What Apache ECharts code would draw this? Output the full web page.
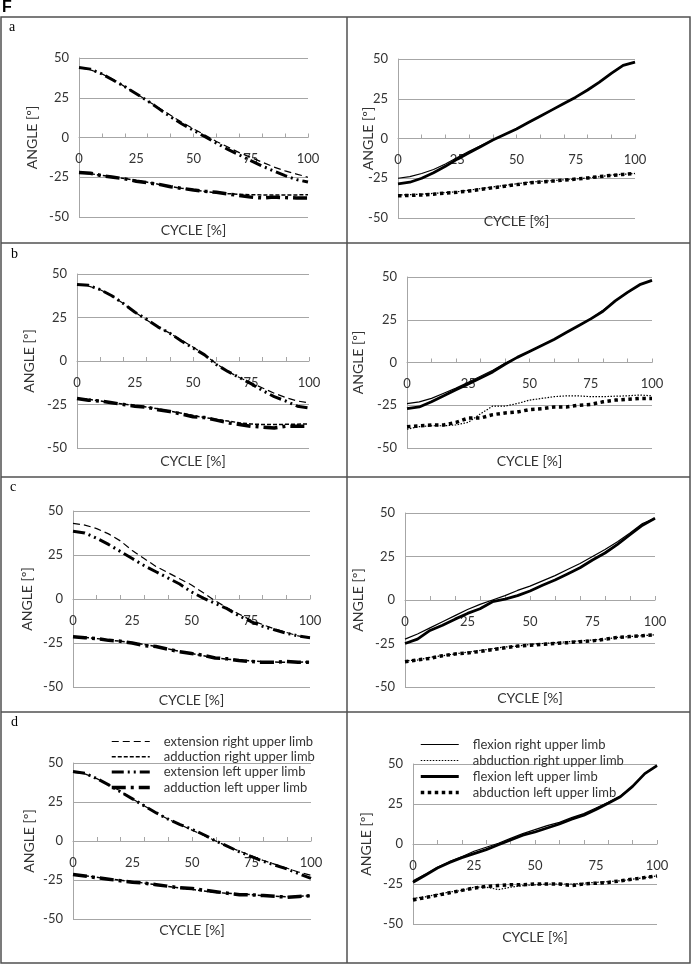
<!DOCTYPE html>
<html>
<head>
<meta charset="utf-8">
<title>Angle over cycle</title>
<script src="https://cdn.jsdelivr.net/npm/echarts@6/dist/echarts.min.js"></script>
<style>
  html, body { margin: 0; padding: 0; background: #fff; }
  #chart { width: 692px; height: 965px; }
</style>
</head>
<body>
<div id="chart"></div>
<script>
// x values (cycle %) shared by every curve
var cycle = [0, 5, 10, 15, 20, 25, 30, 35, 40, 45, 50, 55, 60, 65, 70, 75, 80, 85, 90, 95, 100];
var cycleTicks = [0, 25, 50, 75, 100];
var angleTicks = [-50, -25, 0, 25, 50];

var leftNames = ['extension right upper limb', 'adduction right upper limb', 'extension left upper limb', 'adduction left upper limb'];
var rightNames = ['flexion right upper limb', 'abduction right upper limb', 'flexion left upper limb', 'abduction left upper limb'];

// a
var aExtR = [44, 42.5, 40, 36.5, 32, 27.5, 23, 18.5, 14, 9.5, 5.5, 1.5, -2.5, -6, -9.5, -12.5, -15.5, -18.5, -21, -23, -25];
var aAddR = [-22, -22.8, -23.8, -24.8, -25.8, -27, -28.2, -29.5, -30.8, -32, -33, -34, -34.8, -35.3, -35.7, -36, -36.1, -36.2, -36.2, -36.1, -36];
var aExtL = [44, 43, 40, 36, 32, 27.5, 23, 18, 13, 8.5, 4.5, 0.5, -3.5, -7.5, -11, -14.5, -18, -21, -24, -26.5, -28];
var aAddL = [-22, -22.5, -24, -25, -26, -27.5, -28.5, -29.5, -31, -32, -33, -33.8, -34.5, -35.5, -36.5, -37.5, -38, -37.5, -37.8, -38, -38];
var aFlexR = [-25, -24, -22, -19.5, -16, -12, -8, -4.5, -1, 2.5, 6, 10, 14, 18, 22, 26, 30.5, 35.5, 41, 46, 48];
var aAbdR = [-35.5, -35.3, -35, -34.5, -34, -33.5, -32.5, -31.5, -30.5, -29.5, -28.5, -27.5, -27, -26.5, -26, -25.5, -24.8, -24, -23, -22.5, -22];
var aFlexL = [-28.5, -27.5, -25, -21.5, -17.5, -13, -9, -5, -1, 2.5, 6, 10, 14, 18, 22, 26, 30.5, 35.5, 41, 46, 48];
var aAbdL = [-36, -35.8, -35.5, -35, -34.3, -33.8, -33, -32, -31, -30, -29, -28, -27.3, -26.8, -26.2, -25.5, -24.8, -24, -23.2, -22.6, -22];

// b
var bExtR = [44, 43, 41, 37.5, 33, 28, 23.5, 19.5, 16, 12, 8, 3.5, -1.5, -6, -9.5, -12.5, -15.5, -18.5, -21, -23, -24];
var bAddR = [-21.5, -22, -23, -24, -24.8, -25.5, -26.5, -27.5, -28.8, -30, -31.3, -32.5, -33.5, -34.5, -35.5, -36.2, -36.5, -36.5, -36.4, -36.3, -36.2];
var bExtL = [44, 43.5, 41, 37.5, 33, 28, 24, 19.5, 16, 11.5, 7.5, 3.5, -2, -6, -9.5, -13, -17, -20.5, -23, -26, -27];
var bAddL = [-21.5, -22.5, -23, -24, -25, -26, -26.5, -28, -29, -30.5, -32, -32.5, -34, -35.5, -36.5, -37.5, -38, -38.5, -37.5, -37.5, -37.5];
var bFlexR = [-24, -23, -21, -18, -15, -11.5, -8, -4.5, -0.5, 3, 6.5, 10, 13.5, 17.5, 21.5, 25.5, 30.5, 36, 41, 45.5, 48];
var bAbdR = [-39, -37.5, -37, -37, -36.5, -35, -30, -25.5, -25.5, -24, -22, -21, -20, -19.5, -19.5, -20, -20, -19.7, -19.5, -19, -19.5];
var bFlexL = [-27, -26, -23, -19.5, -16, -12.5, -9, -5.5, -1, 3, 6.5, 10, 13.5, 17.5, 21.5, 25.5, 30, 36, 41, 45.5, 48];
var bAbdL = [-37.5, -37, -36.5, -36.5, -35, -32.5, -32.5, -30.5, -29.5, -29, -27.5, -27, -26, -26, -25, -24.5, -23, -22, -21.5, -21, -21];

// c
var cExtR = [43, 42, 40, 37, 33, 27.5, 23, 18.5, 15, 11.5, 8, 3.5, -1, -5, -8.5, -12, -14.5, -17, -19, -21, -22.3];
var cAddR = [-21.3, -21.8, -22.5, -23.3, -24, -24.8, -25.8, -27, -28.3, -29.8, -31, -32.3, -33.3, -34.2, -34.8, -35.2, -35.6, -35.8, -36, -35.9, -35.8];
var cExtL = [38.5, 37.5, 34.5, 31, 27, 23, 19, 15.5, 12, 8.5, 4, 0.5, -2.5, -5.5, -9.5, -12.8, -15.5, -17.5, -19.4, -21, -22];
var cAddL = [-21.5, -22, -22.5, -23.5, -24, -25, -26.5, -27, -28.5, -30, -31, -32, -33.5, -34, -35, -35.5, -36, -36, -35.5, -36, -36];
var cFlexR = [-22.5, -19.5, -16, -12.5, -9, -5.5, -2.5, 0, 2.5, 5.5, 8, 11, 14, 17.5, 21, 25, 29, 33.5, 38.5, 44, 47];
var cAbdR = [-35, -34.5, -33, -32, -31, -30, -29, -28, -27, -26.5, -25.5, -25, -24.5, -24, -23.5, -23, -22.5, -21.5, -21, -20.5, -20];
var cFlexL = [-25, -22.5, -17.5, -14.5, -11, -7.7, -5, -1, 0.5, 2.5, 5.2, 8.5, 11.5, 15, 18.5, 23, 27, 32, 37.5, 43, 47];
var cAbdL = [-35.5, -34.5, -33.5, -32, -31, -30.5, -29.5, -28.5, -27.5, -26.5, -26, -25.5, -25, -24.5, -24, -23.5, -22.5, -21.5, -21, -20.5, -20];

// d
var dExtR = [44, 43, 40, 36, 32, 27, 22.5, 18, 14, 10.5, 7, 3.5, 0, -3.5, -6.5, -9.5, -12.5, -15, -17.5, -20, -22];
var dAddR = [-21.5, -22.3, -23.3, -24.3, -25.2, -26, -27, -28, -29.2, -30.2, -31, -32, -33, -33.5, -34, -34.4, -35, -35.4, -35.8, -35.5, -35];
var dExtL = [44.5, 43.5, 40, 36, 31.5, 27, 22.5, 18, 14, 10.5, 7.5, 4, 0, -3.5, -7, -10, -13, -15.5, -18, -21, -24];
var dAddL = [-21.5, -22.5, -23.5, -24.5, -25.5, -26.5, -27, -28, -29, -30, -30.5, -31.5, -32.5, -33.5, -34.5, -34.5, -35, -35.5, -36, -35.5, -35];
var dFlexR = [-23, -19, -14.5, -11, -8, -4.5, -2, 0.5, 3.5, 6.5, 9, 11.5, 13.5, 16.5, 19, 22.5, 26, 30, 36, 44, 49];
var dAbdR = [-34, -33, -31.5, -30, -29, -27, -27, -28.5, -27, -26, -25.5, -25, -25, -25, -24.5, -24, -23.5, -23, -22, -21, -20];
var dFlexL = [-24, -19.5, -15, -11.5, -8.5, -6, -3.5, -0.5, 2.5, 5.5, 7.5, 10, 12.5, 15.5, 18, 21.5, 25.5, 29.5, 36, 44, 49];
var dAbdL = [-35, -33.5, -32, -30.5, -29, -27.5, -26.5, -26, -25.5, -25.5, -25, -25, -25, -26, -25, -24.5, -24, -23, -22, -21, -20];

var font = 'Lato';
var textColor = '#333';
var axisGray = '#a6a6a6';
var border = '#505050';

// same order as the names above
var leftStyles = [
  { width: 1.2, type: [7, 4] },
  { width: 1.5, type: [4, 2] },
  { width: 3, type: [12, 4, 2, 4, 2, 4] },
  { width: 3.5, type: [14, 5, 3, 5] }
];
var rightStyles = [
  { width: 1.2, type: 'solid' },
  { width: 1.2, type: [1.5, 1.5] },
  { width: 2.8, type: 'solid' },
  { width: 3.5, type: [3.5, 3.5] }
];

var panels = [
  { left: 79, top: 58, width: 229, height: 159, yGap: 40, xGap: 6, names: leftNames, styles: leftStyles, data: [aExtR, aAddR, aExtL, aAddL] },
  { left: 398, top: 59, width: 237, height: 159, yGap: 23, xGap: -4, names: rightNames, styles: rightStyles, data: [aFlexR, aAbdR, aFlexL, aAbdL] },
  { left: 77, top: 274, width: 232, height: 174, yGap: 41, xGap: 6, names: leftNames, styles: leftStyles, data: [bExtR, bAddR, bExtL, bAddL] },
  { left: 407, top: 277, width: 245, height: 171, yGap: 42, xGap: 6, names: rightNames, styles: rightStyles, data: [bFlexR, bAbdR, bFlexL, bAbdL] },
  { left: 73, top: 511, width: 237, height: 176, yGap: 39, xGap: 6, names: leftNames, styles: leftStyles, data: [cExtR, cAddR, cExtL, cAddL] },
  { left: 405, top: 513, width: 250, height: 174, yGap: 40, xGap: 4, names: rightNames, styles: rightStyles, data: [cFlexR, cAbdR, cFlexL, cAbdL] },
  { left: 73, top: 763, width: 238, height: 156, yGap: 37, xGap: 4, names: leftNames, styles: leftStyles, data: [dExtR, dAddR, dExtL, dAddL] },
  { left: 413, top: 764, width: 244, height: 160, yGap: 40, xGap: 6, names: rightNames, styles: rightStyles, data: [dFlexR, dAbdR, dFlexL, dAbdL] }
];

var grids = [], xAxes = [], yAxes = [], series = [];

panels.forEach(function (p, i) {
  grids.push({ left: p.left, top: p.top, width: p.width, height: p.height });
  // the y range is symmetric, so the zero line sits half a plot above the bottom
  var zeroOffset = -p.height / 2;

  // labelled axis drawn on the zero line
  xAxes.push({
    type: 'value', gridIndex: i, position: 'bottom', offset: zeroOffset,
    min: cycleTicks[0], max: cycleTicks[cycleTicks.length - 1], interval: cycleTicks[1] - cycleTicks[0],
    axisLine: { onZero: false, lineStyle: { color: axisGray, width: 1 } },
    axisTick: { show: false },
    axisLabel: { margin: 15, fontSize: 13, color: textColor, fontFamily: font },
    splitLine: { show: false }
  });
  // tick marks every 10 %
  xAxes.push({
    type: 'value', gridIndex: i, position: 'bottom', offset: zeroOffset, min: 0, max: 100, interval: 10,
    axisLine: { show: false, onZero: false },
    axisTick: { show: true, inside: true, length: 4, lineStyle: { color: axisGray } },
    axisLabel: { show: false },
    splitLine: { show: false }
  });
  // axis title under the plot
  xAxes.push({
    type: 'value', gridIndex: i, position: 'bottom', min: 0, max: 100,
    name: 'CYCLE [%]', nameLocation: 'middle', nameGap: p.xGap, nameMoveOverlap: false,
    nameTextStyle: { fontSize: 14, color: textColor, fontFamily: font },
    axisLine: { show: false, onZero: false },
    axisTick: { show: false },
    axisLabel: { show: false },
    splitLine: { show: false }
  });

  yAxes.push({
    type: 'value', gridIndex: i,
    min: angleTicks[0], max: angleTicks[angleTicks.length - 1], interval: angleTicks[1] - angleTicks[0],
    name: 'ANGLE [º]', nameLocation: 'middle', nameGap: p.yGap, nameMoveOverlap: false,
    nameTextStyle: { fontSize: 14, color: textColor, fontFamily: font },
    axisLine: { show: true, onZero: false, lineStyle: { color: axisGray, width: 1 } },
    axisTick: { show: false },
    axisLabel: { margin: 10, fontSize: 13, color: textColor, fontFamily: font },
    splitLine: { show: true, lineStyle: { color: axisGray, width: 1 } }
  });

  p.data.forEach(function (vals, k) {
    series.push({
      name: p.names[k],
      type: 'line',
      xAxisIndex: i * 3,
      yAxisIndex: i,
      symbol: 'none',
      silent: true,
      lineStyle: { color: '#000', width: p.styles[k].width, type: p.styles[k].type },
      itemStyle: { color: '#000' },
      data: cycle.map(function (c, j) { return [c, vals[j]]; })
    });
  });
});

var legendCommon = {
  orient: 'vertical', padding: 0, itemWidth: 38, itemHeight: 14,
  selectedMode: false,
  itemStyle: { opacity: 0 },
  lineStyle: { width: 'inherit' },
  textStyle: { fontSize: 13, color: textColor, fontFamily: font, padding: [0, 0, 0, 9] }
};

function panelLetter(ch, x, y) {
  return { type: 'text', left: x, top: y, silent: true,
    style: { text: ch, font: '14px "Liberation Serif"', fill: '#000' } };
}
function rule(x1, y1, x2, y2) {
  return { type: 'line', silent: true, shape: { x1: x1, y1: y1, x2: x2, y2: y2 },
    style: { stroke: border, lineWidth: 1.5 } };
}

var chart = echarts.init(document.getElementById('chart'));
chart.setOption({
  animation: false,
  backgroundColor: '#fff',
  grid: grids,
  xAxis: xAxes,
  yAxis: yAxes,
  legend: [
    Object.assign({ data: leftNames, left: 110, top: 735, itemGap: 2.3 }, legendCommon),
    Object.assign({ data: rightNames, left: 419, top: 738, itemGap: 3 }, legendCommon)
  ],
  graphic: [
    { type: 'text', left: 2, top: 0, silent: true, style: { text: 'F', font: 'bold 16px "Liberation Sans"', fill: '#000' } },
    { type: 'rect', silent: true, shape: { x: 1, y: 17, width: 689, height: 946 }, style: { fill: 'none', stroke: border, lineWidth: 1.5 } },
    rule(347, 17, 347, 963),
    rule(1, 243, 690, 243),
    rule(1, 477, 690, 477),
    rule(1, 712, 690, 712),
    panelLetter('a', 9, 20),
    panelLetter('b', 11, 247),
    panelLetter('c', 10, 480),
    panelLetter('d', 11, 715)
  ],
  series: series
});
</script>
</body>
</html>
